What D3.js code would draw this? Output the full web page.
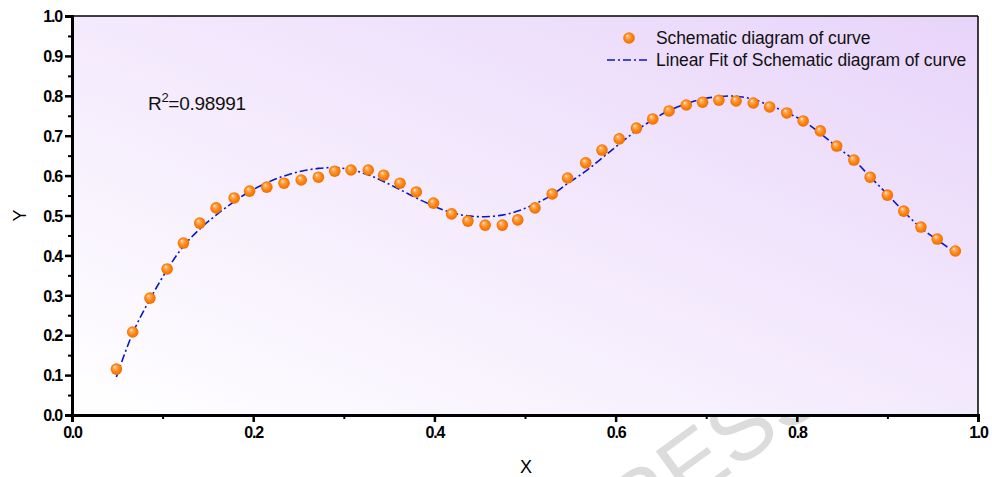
<!DOCTYPE html>
<html>
<head>
<meta charset="UTF-8">
<title></title>
<script src="https://d3js.org/d3.v7.min.js"></script>
<style>
  body { margin: 0; background: #fff; }
  svg { display: block; }
  .tick text { font-family: "Liberation Sans", Arial, sans-serif; font-weight: bold; font-size: 16px; }
</style>
</head>
<body>
<div id="svg"></div>
<script>
// data
const pointX = [0.049, 0.067, 0.086, 0.105, 0.123, 0.141, 0.159, 0.179, 0.196, 0.215,
                0.234, 0.253, 0.272, 0.290, 0.308, 0.327, 0.344, 0.362, 0.380, 0.399,
                0.419, 0.437, 0.456, 0.475, 0.492, 0.511, 0.530, 0.547, 0.567, 0.585,
                0.604, 0.623, 0.641, 0.659, 0.678, 0.696, 0.714, 0.733, 0.752, 0.770,
                0.789, 0.807, 0.826, 0.844, 0.863, 0.881, 0.900, 0.918, 0.937, 0.955, 0.975]
const pointY = [0.115, 0.208, 0.293, 0.366, 0.431, 0.481, 0.519, 0.544, 0.561, 0.571,
                0.581, 0.589, 0.596, 0.611, 0.614, 0.614, 0.601, 0.581, 0.559, 0.531,
                0.504, 0.486, 0.476, 0.476, 0.489, 0.519, 0.554, 0.594, 0.632, 0.664,
                0.692, 0.719, 0.742, 0.762, 0.777, 0.784, 0.789, 0.787, 0.782, 0.772,
                0.757, 0.737, 0.712, 0.674, 0.639, 0.596, 0.551, 0.511, 0.471, 0.441, 0.411]
const fitY = [0.095, 0.205, 0.290, 0.364, 0.423, 0.466, 0.501, 0.535, 0.560, 0.582,
              0.599, 0.611, 0.618, 0.620, 0.615, 0.602, 0.585, 0.565, 0.544, 0.524,
              0.507, 0.499, 0.497, 0.501, 0.511, 0.529, 0.552, 0.580, 0.611, 0.644,
              0.679, 0.713, 0.740, 0.763, 0.780, 0.792, 0.798, 0.799, 0.791, 0.776,
              0.758, 0.737, 0.706, 0.672, 0.639, 0.597, 0.553, 0.510, 0.469, 0.439, 0.407]
const xTicks = [0, 0.2, 0.4, 0.6, 0.8, 1.0]
const yTicks = [0, 0.1, 0.2, 0.3, 0.4, 0.5, 0.6, 0.7, 0.8, 0.9, 1.0]
const seriesNames = ['Schematic diagram of curve', 'Linear Fit of Schematic diagram of curve']
const r2Text = '0.98991'

const width = 992, height = 477
const margin = {top: 16, right: 14, bottom: 62, left: 72}
const iw = width - margin.left - margin.right
const ih = height - margin.top - margin.bottom

const svg = d3.select('#svg').append('svg').attr('width', width).attr('height', height)
const defs = svg.append('defs')

const bg = defs.append('linearGradient').attr('id', 'bg')
  .attr('x1', '0%').attr('y1', '100%').attr('x2', '100%').attr('y2', '0%')
bg.append('stop').attr('offset', '0%').attr('stop-color', '#ffffff')
bg.append('stop').attr('offset', '100%').attr('stop-color', '#e8d4fa')

const ball = defs.append('radialGradient').attr('id', 'ball')
  .attr('cx', '50%').attr('cy', '50%').attr('r', '55%').attr('fx', '35%').attr('fy', '30%')
ball.append('stop').attr('offset', '0%').attr('stop-color', '#fff6e8')
ball.append('stop').attr('offset', '22%').attr('stop-color', '#ffb060')
ball.append('stop').attr('offset', '60%').attr('stop-color', '#ff8410')
ball.append('stop').attr('offset', '100%').attr('stop-color', '#e86a00')

// watermark behind the plot
svg.append('text').attr('transform', 'translate(832,400) rotate(-36)')
  .attr('text-anchor', 'end').style('font-family', 'Liberation Sans, Arial, sans-serif')
  .style('font-size', '90px').attr('fill', '#dcdcdc').text('PRESS')

const x = d3.scaleLinear().domain([0, 1]).range([0, iw])
const y = d3.scaleLinear().domain([0, 1]).range([ih, 0])

const g = svg.append('g').attr('transform', `translate(${margin.left},${margin.top})`)

g.append('rect').attr('width', iw).attr('height', ih).attr('fill', 'url(#bg)')

// frame: top and right thin
g.append('line').attr('x1', 0).attr('x2', iw).attr('y1', 0).attr('y2', 0).attr('stroke', '#000').attr('stroke-width', 1.5)
g.append('line').attr('x1', iw).attr('x2', iw).attr('y1', 0).attr('y2', ih).attr('stroke', '#000').attr('stroke-width', 1.5)

// minor ticks
const xMinor = g.append('g').attr('transform', `translate(0,${ih})`)
  .call(d3.axisBottom(x).tickValues([0.1, 0.3, 0.5, 0.7, 0.9]).tickSize(4).tickFormat(''))
const yMinor = g.append('g')
  .call(d3.axisLeft(y).tickValues(d3.range(0.05, 1, 0.1)).tickSize(4).tickFormat(''))
;[xMinor, yMinor].forEach(a => { a.select('.domain').remove(); a.selectAll('line').attr('stroke-width', 2) })

const xAxis = g.append('g').attr('transform', `translate(0,${ih})`)
  .call(d3.axisBottom(x).tickValues(xTicks).tickSize(7).tickPadding(5).tickFormat(d3.format('.1f')))
const yAxis = g.append('g')
  .call(d3.axisLeft(y).tickValues(yTicks).tickSize(7).tickPadding(3).tickFormat(d3.format('.1f')))
;[xAxis, yAxis].forEach(a => {
  a.select('.domain').attr('stroke-width', 3)
  a.selectAll('.tick line').attr('stroke-width', 2.5)
  a.selectAll('.tick text').attr('fill', '#000').style('letter-spacing', '-1.2px')
})
yAxis.selectAll('.tick text').attr('dy', '0.36em')

// fit line
const line = d3.line().x((d, i) => x(pointX[i])).y(d => y(d)).curve(d3.curveCatmullRom)
g.append('path').datum(fitY).attr('d', line).attr('fill', 'none')
  .attr('stroke', '#0818c0').attr('stroke-width', 1.6).attr('stroke-dasharray', '8,3,2,3')

// points
g.selectAll('circle.pt').data(pointY).enter().append('circle').attr('class', 'pt')
  .attr('cx', (d, i) => x(pointX[i])).attr('cy', d => y(d)).attr('r', 5.8)
  .attr('fill', 'url(#ball)')

// R^2
const r2 = g.append('text').attr('x', 76).attr('y', 94)
  .style('font-family', 'Liberation Sans, Arial, sans-serif').style('font-size', '19px')
  .style('letter-spacing', '-0.3px').attr('fill', '#111')
r2.append('tspan').text('R')
r2.append('tspan').attr('dy', -8).style('font-size', '13px').text('2')
r2.append('tspan').attr('dy', 8).text('=' + r2Text)

// legend
const leg = g.append('g').attr('transform', 'translate(535,22)')
leg.append('circle').attr('cx', 22).attr('cy', 0).attr('r', 5.8).attr('fill', 'url(#ball)')
leg.append('line').attr('x1', 0).attr('x2', 43).attr('y1', 22).attr('y2', 22)
  .attr('stroke', '#0818c0').attr('stroke-width', 1.6).attr('stroke-dasharray', '8,3,2,3')
leg.selectAll('text').data(seriesNames).enter().append('text')
  .attr('x', 49).attr('y', (d, i) => i * 22 + 6)
  .style('font-family', 'Liberation Sans, Arial, sans-serif').style('font-size', '17.5px')
  .style('letter-spacing', '-0.1px').attr('fill', '#111').text(d => d)

// axis titles
svg.append('text').attr('x', margin.left + iw / 2 + 1).attr('y', 473).attr('text-anchor', 'middle')
  .style('font-family', 'Liberation Sans, Arial, sans-serif').style('font-size', '18px').text('X')
svg.append('text').attr('transform', `translate(26,${margin.top + ih / 2}) rotate(-90)`).attr('text-anchor', 'middle')
  .style('font-family', 'Liberation Sans, Arial, sans-serif').style('font-size', '18px').text('Y')
</script>
</body>
</html>
